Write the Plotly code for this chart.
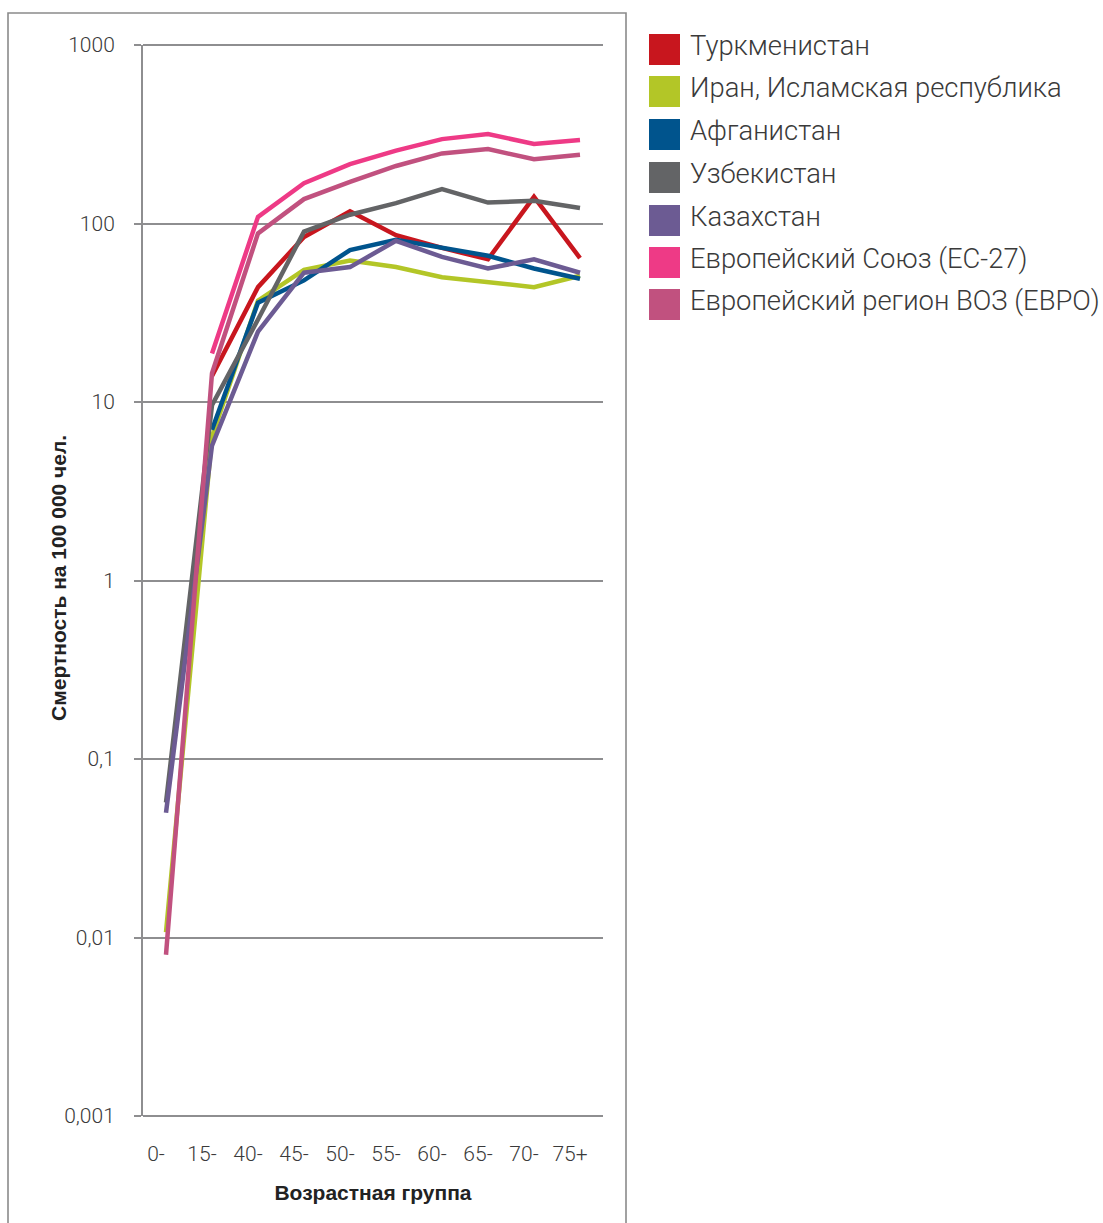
import plotly.graph_objects as go

# ---------------- data ----------------
age_groups = ["0-", "15-", "40-", "45-", "50-", "55-", "60-", "65-", "70-", "75+"]

turkmenistan = [None, 14.0, 44, 84, 117, 86, 73, 63, 141, 64]
iran = [0.0107, 6.4, 37, 55, 62, 57, 50, 47, 44, 51]
afghanistan = [None, 7.0, 36, 48, 71, 81, 73, 66, 56, 49]
uzbekistan = [0.057, 9.6, 29, 90, 112, 130, 156, 131, 134, 122]
kazakhstan = [0.050, 5.7, 24.8, 53, 57, 80, 65, 56, 63, 53]
eu27 = [None, 18.7, 109, 168, 215, 256, 297, 317, 279, 294]
who_euro = [0.0080, 14.5, 88, 137, 171, 210, 247, 261, 229, 243]

series_names = [
    "Туркменистан",
    "Иран, Исламская республика",
    "Афганистан",
    "Узбекистан",
    "Казахстан",
    "Европейский Союз (ЕС-27)",
    "Европейский регион ВОЗ (ЕВРО)",
]
series_values = [turkmenistan, iran, afghanistan, uzbekistan, kazakhstan, eu27, who_euro]
series_colors = ["#C8161E", "#B3C627", "#00548D", "#636466", "#6C5B93", "#EE3A86", "#C1517F"]

y_tickvals = [0.001, 0.01, 0.1, 1, 10, 100, 1000]
y_ticktext = ["0,001", "0,01", "0,1", "1", "10", "100", "1000"]

# ---------------- layout geometry ----------------
W, H = 1103, 1223
PL, PR, PT, PB = 143, 603, 45, 1116  # plot area in pixels

def px_x(px):
    return (px - PL) / (PR - PL)

def px_y(py):
    return (PB - py) / (PB - PT)

GRID = "#8e8e90"
TEXT = "#3a3a3a"

fig = go.Figure()
for name, vals, col in zip(series_names, series_values, series_colors):
    fig.add_trace(go.Scatter(
        x=age_groups, y=vals, mode="lines", name=name,
        line=dict(color=col, width=4.5),
        connectgaps=False, showlegend=False,
    ))

shapes = []
annotations = []

# outer frame
shapes.append(dict(type="rect", xref="paper", yref="paper",
                   x0=px_x(8), x1=px_x(626), y0=px_y(1240), y1=px_y(13),
                   line=dict(color="#8a8a8a", width=1.6), fillcolor="rgba(0,0,0,0)",
                   layer="below"))

# top and bottom gridlines (plotly suppresses gridlines on the range edges)
for yp in (0, 1):
    shapes.append(dict(type="line", xref="paper", yref="paper",
                       x0=0, x1=1, y0=yp, y1=yp,
                       line=dict(color=GRID, width=2), layer="below"))

# manual legend (square swatches)
sw_tops = [34, 76, 119, 162, 205, 247, 289]
for name, col, top in zip(series_names, series_colors, sw_tops):
    shapes.append(dict(type="rect", xref="paper", yref="paper",
                       x0=px_x(649), x1=px_x(680), y0=px_y(top + 31), y1=px_y(top),
                       line=dict(width=0), fillcolor=col))
    annotations.append(dict(xref="paper", yref="paper", x=px_x(688), y=px_y(top + 12),
                            text=name, showarrow=False, xanchor="left", yanchor="middle",
                            font=dict(family="Roboto", size=27.4, color=TEXT, weight=300)))

# y axis title
annotations.append(dict(xref="paper", yref="paper", x=px_x(58), y=px_y(578),
                        text="Смертность на 100 000 чел.", textangle=-90, showarrow=False,
                        xanchor="center", yanchor="middle",
                        font=dict(family="Liberation Sans", size=21, color="#222222", weight="bold")))

fig.update_layout(
    width=W, height=H,
    margin=dict(l=PL, r=W - PR, t=PT, b=H - PB, autoexpand=False),
    paper_bgcolor="white", plot_bgcolor="white",
    showlegend=False,
    shapes=shapes,
    annotations=annotations,
    xaxis=dict(
        type="category", range=[-0.5, 9.5],
        showgrid=False, showline=False, zeroline=False, ticks="",
        tickfont=dict(family="Roboto", size=21, color=TEXT, weight=300),
        ticklabelshift=-10, ticklabelstandoff=23,
        title=dict(text="Возрастная группа", standoff=20,
                   font=dict(family="Liberation Sans", size=21, color="#222222", weight="bold")),
        automargin=False, fixedrange=True,
    ),
    yaxis=dict(
        type="log", range=[-3, 3],
        tickvals=y_tickvals, ticktext=y_ticktext,
        showgrid=True, gridcolor=GRID, gridwidth=2,
        showline=True, linecolor=GRID, linewidth=2,
        ticks="outside", ticklen=7, tickwidth=2, tickcolor=GRID,
        ticklabelstandoff=15,
        tickfont=dict(family="Roboto", size=21, color=TEXT, weight=300),
        zeroline=False, automargin=False, fixedrange=True,
    ),
)

fig.write_html("out.html", config={"displayModeBar": False},
               post_script="document.body.style.margin='0px';")
